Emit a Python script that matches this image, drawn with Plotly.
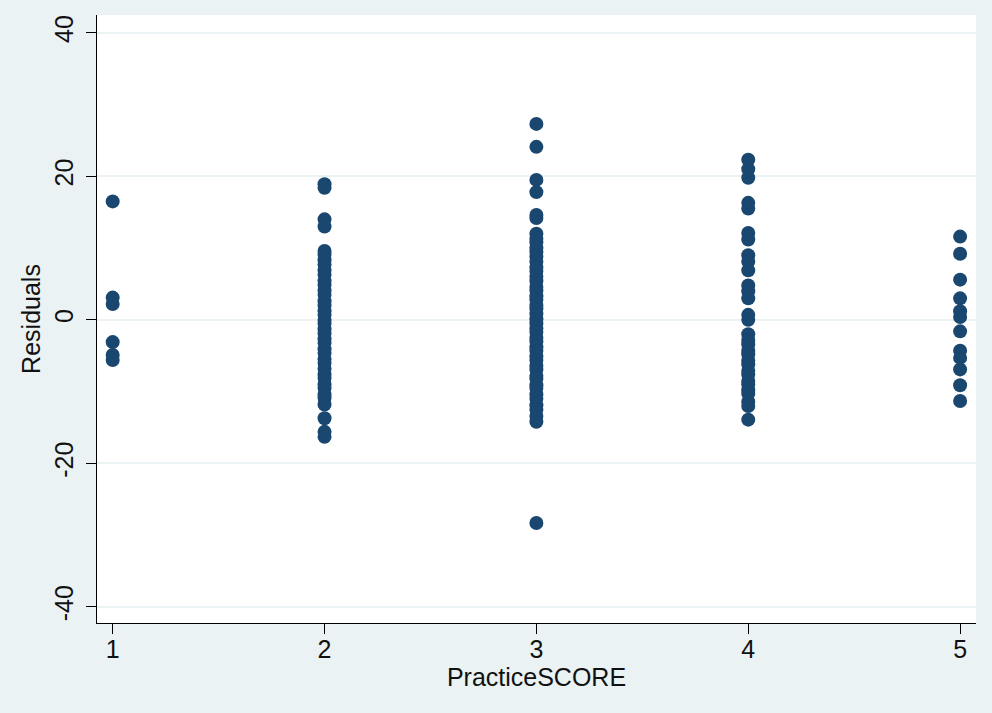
import plotly.graph_objects as go

# Residuals by PracticeSCORE group
score_levels = [1, 2, 3, 4, 5]

resid_score1 = [16.5, 3.1, 2.2, -3.1, -4.9, -5.6]
resid_score2 = [18.9, 18.4, 14.0, 13.0, 9.6, 9.1, 8.3, 7.7, 6.9, 6.3, 5.4, 4.9,
                4.1, 3.5, 2.6, 2.0, 1.2, 0.7, 0.0, -0.5, -1.3, -1.9, -2.7, -3.2,
                -4.1, -4.6, -5.5, -6.0, -6.8, -7.6, -8.1, -9.0, -9.5, -10.4,
                -10.9, -11.8, -13.7, -15.6, -16.3]
resid_score3 = [27.3, 24.1, 19.5, 17.8, 14.6, 14.2, 12.0, 11.3, 10.8, 10.0, 9.5,
                8.8, 8.1, 7.3, 6.8, 6.0, 5.4, 4.6, 4.1, 3.3, 2.8, 2.0, 1.5, 0.8,
                0.1, -0.5, -1.2, -1.7, -2.5, -3.0, -3.8, -4.3, -5.1, -5.6, -6.4,
                -6.9, -7.8, -8.2, -9.1, -9.5, -10.4, -11.0, -11.9, -12.5, -13.4,
                -14.2, -28.3]
resid_score4 = [22.3, 21.0, 19.8, 16.3, 15.5, 12.1, 11.2, 9.0, 8.1, 6.9, 4.8,
                4.0, 3.0, 0.7, 0.0, -2.0, -2.8, -3.4, -4.3, -4.8, -5.7, -6.2,
                -7.1, -7.6, -8.5, -9.0, -9.8, -10.3, -11.4, -12.0, -13.9]
resid_score5 = [11.6, 9.2, 5.6, 3.0, 1.2, 0.4, -1.6, -4.3, -5.3, -6.9, -9.1, -11.3]

groups = [resid_score1, resid_score2, resid_score3, resid_score4, resid_score5]

x_vals, y_vals = [], []
for level, resids in zip(score_levels, groups):
    x_vals.extend([level] * len(resids))
    y_vals.extend(resids)

y_ticks = [-40, -20, 0, 20, 40]
y_tick_text = ["-40", "-20", "0", "20", "40"]

navy = "#1A476F"
bg = "#EAF2F3"
font = "Liberation Sans, Arial, sans-serif"

fig = go.Figure(
    go.Scatter(
        x=x_vals, y=y_vals, mode="markers",
        marker=dict(color=navy, size=14, line=dict(width=0)),
        showlegend=False,
    )
)

fig.update_layout(
    width=992, height=713,
    paper_bgcolor=bg, plot_bgcolor="white",
    margin=dict(l=97, r=16, t=15, b=90),
    font=dict(family=font, size=25, color="#111111"),
)

fig.update_xaxes(
    range=[0.926, 5.075],
    tickmode="array", tickvals=score_levels,
    ticks="outside", ticklen=10, tickwidth=1.2, tickcolor="black",
    ticklabelstandoff=-6,
    showline=True, linecolor="black", linewidth=1.2,
    showgrid=False, zeroline=False,
    title=dict(text="PracticeSCORE", standoff=0, font=dict(size=25)),
    tickfont=dict(size=25),
)

fig.update_yaxes(
    range=[-42.23, 42.47],
    tickmode="array", tickvals=y_ticks, ticktext=y_tick_text,
    ticks="outside", ticklen=10, tickwidth=1.2, tickcolor="black",
    tickangle=-90, ticklabelstandoff=3,
    showline=True, linecolor="black", linewidth=1.2,
    showgrid=True, gridcolor=bg, gridwidth=2,
    zeroline=False,
    title=dict(text="Residuals", standoff=2, font=dict(size=25)),
    tickfont=dict(size=25),
)

fig.write_html("out.html")
